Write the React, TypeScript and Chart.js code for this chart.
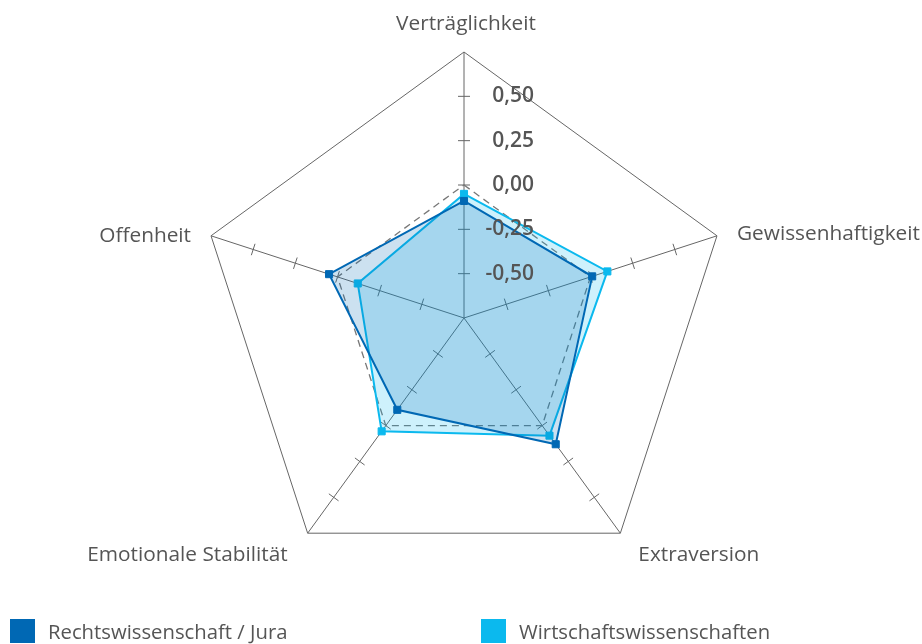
import React, { useEffect, useRef } from 'react';
import { Chart, registerables } from 'chart.js';

Chart.register(...registerables);

const categories = ['Verträglichkeit', 'Gewissenhaftigkeit', 'Extraversion', 'Emotionale Stabilität', 'Offenheit'];
const seriesNames = ['Rechtswissenschaft / Jura', 'Wirtschaftswissenschaften'];
const juraValues = [-0.09, 0.01, 0.13, -0.11, 0.05];
const wirtschaftValues = [-0.05, 0.10, 0.07, 0.04, -0.12];
const referenceValues = [0, 0, 0, 0, 0];
const tickValues = [-0.5, -0.25, 0, 0.25, 0.5];
const tickLabels = ['-0,50', '-0,25', '0,00', '0,25', '0,50'];
const axisMin = -0.75;
const axisMax = 0.75;

const seriesColors = ['#0068b4', '#0bb9ee'];
const seriesFills = ['rgba(0,104,180,0.2)', 'rgba(11,185,238,0.2)'];
const textColor = '#555555';
const lineColor = '#666666';

const labelPlacement = [
  { dx: 2, dy: -28, align: 'center' },
  { dx: 20, dy: -2, align: 'left' },
  { dx: 18, dy: 22, align: 'left' },
  { dx: -20, dy: 22, align: 'right' },
  { dx: -20, dy: 0, align: 'right' },
];

const overlayPlugin = {
  id: 'overlay',
  beforeDatasetsDraw(chart: any) {
    const scale = chart.scales.r;
    const ctx = chart.ctx;
    ctx.save();
    ctx.strokeStyle = lineColor;
    ctx.lineWidth = 1;
    categories.forEach((_, i) => {
      const o = scale.getPointPositionForValue(i, axisMin);
      const e = scale.getPointPositionForValue(i, axisMax);
      const dx = e.x - o.x;
      const dy = e.y - o.y;
      const len = Math.hypot(dx, dy);
      const px = (-dy / len) * 6;
      const py = (dx / len) * 6;
      tickValues.forEach((v) => {
        const p = scale.getPointPositionForValue(i, v);
        ctx.beginPath();
        ctx.moveTo(p.x - px, p.y - py);
        ctx.lineTo(p.x + px, p.y + py);
        ctx.stroke();
      });
    });
    ctx.restore();
  },
  afterDatasetsDraw(chart: any) {
    const scale = chart.scales.r;
    const ctx = chart.ctx;
    ctx.save();
    ctx.fillStyle = textColor;
    ctx.textBaseline = 'middle';
    ctx.font = '600 21px "Open Sans"';
    ctx.textAlign = 'right';
    tickValues.forEach((v, k) => {
      const p = scale.getPointPositionForValue(0, v);
      ctx.fillText(tickLabels[k], p.x + 70, p.y);
    });
    ctx.font = '20.8px "Open Sans"';
    categories.forEach((label, i) => {
      const p = scale.getPointPositionForValue(i, axisMax);
      const pl = labelPlacement[i];
      ctx.textAlign = pl.align;
      ctx.fillText(label, p.x + pl.dx, p.y + pl.dy);
    });
    ctx.restore();
  },
};

export default function App() {
  const canvasRef = useRef<HTMLCanvasElement | null>(null);

  useEffect(() => {
    if (!canvasRef.current) return;
    const chart = new Chart(canvasRef.current, {
      type: 'radar',
      data: {
        labels: categories,
        datasets: [
          {
            label: seriesNames[0],
            data: juraValues,
            borderColor: seriesColors[0],
            backgroundColor: seriesFills[0],
            borderWidth: 2,
            fill: 'start',
            pointStyle: 'rect',
            pointRadius: 5,
            pointBorderWidth: 1,
            pointBackgroundColor: seriesColors[0],
            pointBorderColor: seriesColors[0],
          },
          {
            label: seriesNames[1],
            data: wirtschaftValues,
            borderColor: seriesColors[1],
            backgroundColor: seriesFills[1],
            borderWidth: 2,
            fill: 'start',
            pointStyle: 'rect',
            pointRadius: 5,
            pointBorderWidth: 1,
            pointBackgroundColor: seriesColors[1],
            pointBorderColor: seriesColors[1],
          },
          {
            label: 'Referenz',
            data: referenceValues,
            borderColor: '#777777',
            borderDash: [7, 5],
            borderWidth: 1.3,
            fill: false,
            pointRadius: 0,
          },
        ],
      },
      options: {
        responsive: false,
        animation: false,
        devicePixelRatio: 1,
        events: [],
        layout: { padding: { left: 198, right: 192, top: 52, bottom: 60 } },
        plugins: { legend: { display: false }, tooltip: { enabled: false } },
        scales: {
          r: {
            min: axisMin,
            max: axisMax,
            ticks: { display: false, stepSize: 0.25 },
            pointLabels: { display: false },
            grid: {
              circular: false,
              lineWidth: 1,
              color: (ctx: any) => (ctx.tick && ctx.tick.value === axisMax ? lineColor : 'rgba(0,0,0,0)'),
            },
            angleLines: { color: lineColor, lineWidth: 1 },
          },
        },
      },
      plugins: [overlayPlugin],
    } as any);
    return () => chart.destroy();
  }, []);

  const legendItem = (i: number, left: number) => (
    <div key={i} style={{ position: 'absolute', left, top: 619, height: 24, display: 'flex', alignItems: 'center' }}>
      <div style={{ width: 25, height: 24, background: seriesColors[i] }} />
      <span style={{ marginLeft: 13, font: '20.3px "Open Sans"', color: textColor, whiteSpace: 'nowrap', lineHeight: '24px' }}>
        {seriesNames[i]}
      </span>
    </div>
  );

  return (
    <div style={{ position: 'fixed', left: 0, top: 0, width: 922, height: 644, background: '#fff', overflow: 'hidden' }}>
      <canvas ref={canvasRef} width={922} height={644} style={{ position: 'absolute', left: 0, top: 0 }} />
      {legendItem(0, 10)}
      {legendItem(1, 481)}
    </div>
  );
}
